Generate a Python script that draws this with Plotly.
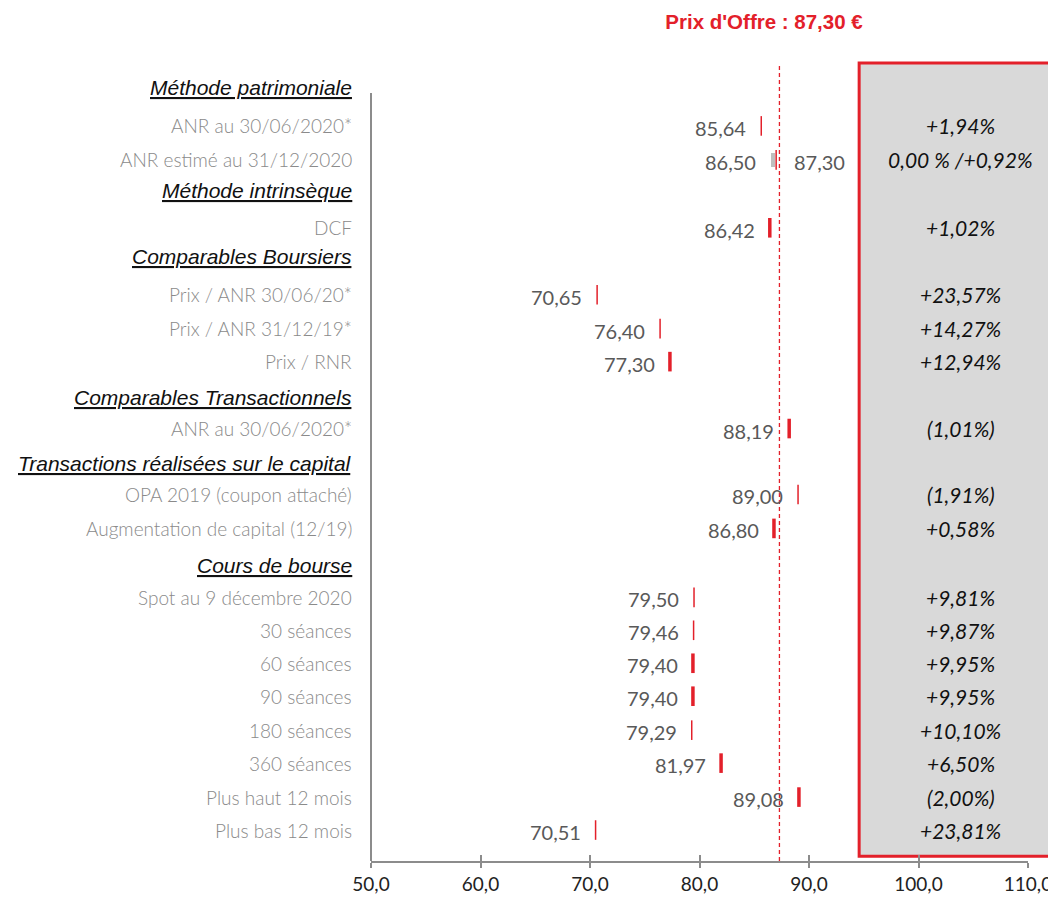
import plotly.graph_objects as go

# ---------------- data ----------------
row_labels = ["Méthode patrimoniale", "ANR au 30/06/2020*", "ANR estimé au 31/12/2020",
              "Méthode intrinsèque", "DCF",
              "Comparables Boursiers", "Prix / ANR 30/06/20*", "Prix / ANR 31/12/19*", "Prix / RNR",
              "Comparables Transactionnels", "ANR au 30/06/2020*",
              "Transactions réalisées sur le capital", "OPA 2019 (coupon attaché)", "Augmentation de capital (12/19)",
              "Cours de bourse", "Spot au 9 décembre 2020", "30 séances", "60 séances", "90 séances",
              "180 séances", "360 séances", "Plus haut 12 mois", "Plus bas 12 mois"]
is_header = [True, False, False, True, False, True, False, False, False, True, False,
             True, False, False, True, False, False, False, False, False, False, False, False]
values = [None, 85.64, 86.50, None, 86.42, None, 70.65, 76.40, 77.30, None, 88.19,
          None, 89.00, 86.80, None, 79.50, 79.46, 79.40, 79.40, 79.29, 81.97, 89.08, 70.51]
range_high = [None, None, 87.30, None, None, None, None, None, None, None, None,
              None, None, None, None, None, None, None, None, None, None, None, None]
premiums = [None, "+1,94%", "0,00 % /+0,92%", None, "+1,02%", None, "+23,57%", "+14,27%", "+12,94%",
            None, "(1,01%)", None, "(1,91%)", "+0,58%", None, "+9,81%", "+9,87%", "+9,95%", "+9,95%",
            "+10,10%", "+6,50%", "(2,00%)", "+23,81%"]
offer_price = 87.30
offer_title = "Prix d'Offre : 87,30 €"
x_ticks = [50, 60, 70, 80, 90, 100, 110]
x_tick_labels = ["50,0", "60,0", "70,0", "80,0", "90,0", "100,0", "110,0"]

# ---------------- layout / style ----------------
# vertical slot of each row (layout units, top -> bottom)
row_slot = [88, 126, 160, 191, 228, 257, 295, 329, 362, 398, 429, 464, 495, 529, 566,
            598, 631, 664, 697, 731, 764, 798, 831]
# marker thickness per row
bar_thick = [0, 1.5, 1.5, 0, 3.5, 0, 1.5, 1.5, 3.5, 0, 3.5, 0, 1.5, 3.5, 0,
             1.5, 1.5, 3.5, 3.5, 1.5, 3.5, 3.5, 1.5]

RED = "#e3202a"
GRAY_AX = "#8c8c8c"

def fr(v):
    return f"{v:.2f}".replace(".", ",")

idx = list(range(len(row_labels)))
pt_i = [i for i in idx if values[i] is not None]

fig = go.Figure()

# range bar (ANR estimé)
rb_i = [i for i in idx if range_high[i] is not None]
fig.add_trace(go.Bar(
    orientation="h", y=[row_slot[i] for i in rb_i], base=[values[i] for i in rb_i], x=[0.38 for i in rb_i],
    width=14, marker=dict(color="#bfbfbf", line=dict(width=0)), showlegend=False, hoverinfo="skip"))

# markers
mx = []
for i in pt_i:
    mx.append(values[i] + (0.5 if range_high[i] is not None else 0))
fig.add_trace(go.Scatter(
    x=mx, y=[row_slot[i] for i in pt_i], mode="markers",
    marker=dict(symbol="line-ns", size=14, color=RED,
                line=dict(color=RED, width=[bar_thick[i] for i in pt_i])),
    showlegend=False, hoverinfo="skip"))

# invisible trace for overlay axis
fig.add_trace(go.Scatter(x=[50], y=[400], xaxis="x2", mode="markers",
                         marker=dict(opacity=0), showlegend=False, hoverinfo="skip"))

ann = []
for i in idx:
    yy = row_slot[i]
    if is_header[i]:
        ann.append(dict(x=0, xref="paper", y=yy, yref="y", xanchor="right", yanchor="middle",
                        xshift=-17, showarrow=False,
                        text=f"<i><u>{row_labels[i]}</u></i>",
                        font=dict(family="Liberation Sans, Arial", size=21, color="#111111")))
    else:
        ann.append(dict(x=0, xref="paper", y=yy, yref="y", xanchor="right", yanchor="middle",
                        xshift=-17, showarrow=False, text=row_labels[i],
                        font=dict(family="Lato", size=19, color="#8a8a8a", weight=300)))
        ann.append(dict(x=values[i], xref="x", y=yy, yref="y", xanchor="right", yanchor="middle",
                        xshift=-13, yshift=-2, showarrow=False, text=fr(values[i]),
                        font=dict(family="Lato", size=20, color="#595959")))
        if range_high[i] is not None:
            ann.append(dict(x=range_high[i], xref="x", y=yy, yref="y", xanchor="left", yanchor="middle",
                            xshift=13, yshift=-2, showarrow=False, text=fr(range_high[i]),
                            font=dict(family="Lato", size=20, color="#595959")))
        ann.append(dict(x=0.898, xref="paper", y=yy, yref="y", xanchor="center", yanchor="middle",
                        showarrow=False, text=f"<i>{premiums[i]}</i>",
                        font=dict(family="Lato", size=21, color="#111111")))

shapes = [
    dict(type="rect", xref="paper", yref="paper", x0=0.743, x1=1.1, y0=0.006, y1=1.0,
         fillcolor="#d9d9d9", line=dict(color=RED, width=3), layer="below"),
    dict(type="line", xref="x", yref="paper", x0=offer_price, x1=offer_price, y0=0, y1=1,
         line=dict(color=RED, width=1.3, dash="4px,3px")),
    dict(type="line", xref="paper", yref="y", x0=0, x1=0, y0=93, y1=862,
         line=dict(color=GRAY_AX, width=2)),
]

# page body has an 8px margin -> compensate
fig.update_layout(
    width=1056, height=899,
    margin=dict(l=363, r=34, t=55, b=45),
    paper_bgcolor="white", plot_bgcolor="rgba(0,0,0,0)",
    title=dict(text=f"<b>{offer_title}</b>", x=756 / 1056, xanchor="center", y=1 - 14 / 899,
               yanchor="middle", font=dict(family="Liberation Sans, Arial", size=20.5, color=RED)),
    xaxis=dict(range=[50, 110], tickvals=x_ticks, ticktext=x_tick_labels, showgrid=False, zeroline=False,
               showline=True, linecolor=GRAY_AX, linewidth=2, ticks="outside", ticklen=5,
               tickwidth=2, tickcolor=GRAY_AX,
               tickfont=dict(family="Lato", size=19, color="#222222")),
    xaxis2=dict(range=[50, 110], overlaying="x", side="bottom", tickvals=x_ticks, showticklabels=False,
                showgrid=False, zeroline=False, showline=False, ticks="inside", ticklen=6,
                tickwidth=2, tickcolor=GRAY_AX),
    yaxis=dict(range=[862, 63], visible=False, showgrid=False, zeroline=False),
    shapes=shapes, annotations=ann, showlegend=False, bargap=0,
)

fig.write_html("out.html")
